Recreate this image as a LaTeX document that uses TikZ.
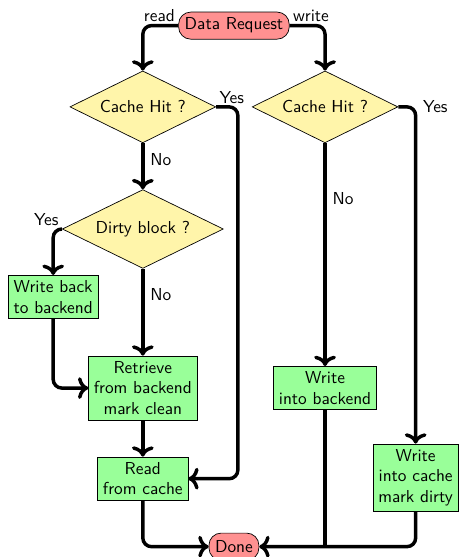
\documentclass[tikz,border=0pt]{standalone}
\usepackage{xcolor}
\usepackage{tikz}
\usetikzlibrary{arrows.meta,positioning,calc,shapes.geometric}
\definecolor{FlowRed}{RGB}{255,145,145}
\definecolor{FlowYellow}{RGB}{255,245,170}
\definecolor{FlowGreen}{RGB}{153,255,153}
\tikzset{
  termbox/.style={draw, fill=FlowRed, rounded corners=7pt, minimum height=0.55cm, inner xsep=3.5pt, inner ysep=2pt},
  testbox/.style={draw, fill=FlowYellow, shape=diamond, aspect=2, inner sep=1pt},
  stepbox/.style={draw, fill=FlowGreen, align=center, inner sep=3pt},
  flow/.style={->, line width=2pt, rounded corners=5pt},
  flowline/.style={line width=2pt, rounded corners=5pt}
}

\begin{document}
\begin{tikzpicture}[font=\sffamily]
        \useasboundingbox (0,0) rectangle (9.30,-11.31);
        \node[termbox] (req) at (4.75,-0.52) {Data Request};
        \node[testbox, minimum width=2.96cm, minimum height=1.46cm] (hitL) at (2.90,-2.17) {Cache Hit ?};
        \node[testbox, minimum width=2.96cm, minimum height=1.46cm] (hitR) at (6.60,-2.17) {Cache Hit ?};
        \node[testbox, minimum width=3.27cm, minimum height=1.60cm] (dirty) at (2.90,-4.65) {Dirty block ?};
        \node[stepbox] (wback) at (1.08,-6.03) {Write back\\to backend};
        \node[stepbox] (retr) at (2.90,-7.88) {Retrieve\\from backend\\mark clean};
        \node[stepbox] (readc) at (2.90,-9.72) {Read\\from cache};
        \node[stepbox] (wbe) at (6.60,-7.88) {Write\\into backend};
        \node[stepbox] (wcache) at (8.44,-9.70) {Write\\into cache\\mark dirty};
        \node[termbox] (done) at (4.75,-11.10) {Done};
        \coordinate (yesL) at (4.83,-2.17);
        \coordinate (join) at (wbe.south |- done.east);

        % read branch
        \draw[flow] (req.west) -| node[pos=0, above left, inner sep=1pt] {read} (hitL.north);
        \draw[flow] (hitL) -- node[right, pos=0.35] {No} (dirty);
        \draw[flow] (hitL.east) -- node[pos=0, above right, inner sep=1pt] {Yes} (yesL) |- (readc.east);
        \draw[flow] (dirty.west) -| node[pos=0, above left, inner sep=1pt] {Yes} (wback.north);
        \draw[flow] (dirty) -- node[right, pos=0.3] {No} (retr);
        \draw[flow] (wback.south) |- (retr.west);
        \draw[flow] (retr) -- (readc);
        \draw[flow] (readc.south) |- (done.west);

        % write branch
        \draw[flow] (req.east) -| node[pos=0, above right, inner sep=1pt] {write} (hitR.north);
        \draw[flow] (hitR.east) -| node[right] {Yes} (wcache.north);
        \draw[flow] (hitR) -- node[right, pos=0.25] {No} (wbe);
        \draw[flowline] (wbe.south) -- (join);
        \draw[flow] (wcache.south) |- (done.east);
      \end{tikzpicture}
\end{document}
